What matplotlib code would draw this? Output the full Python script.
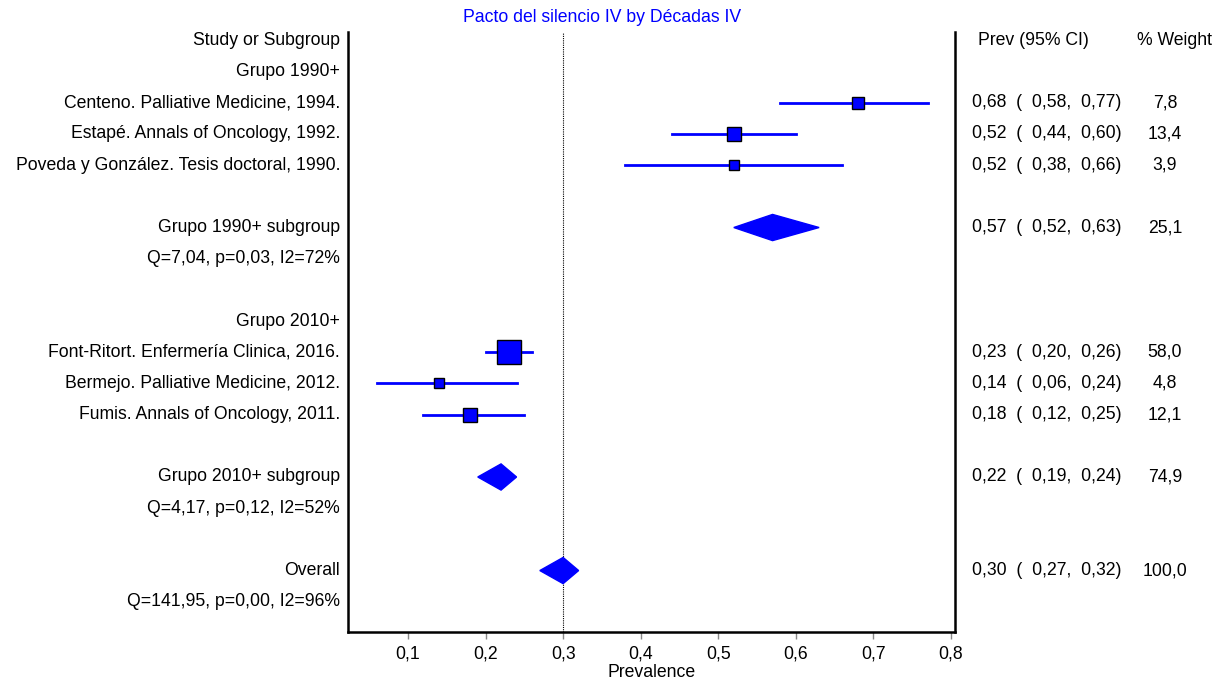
import numpy as np
import matplotlib
matplotlib.use('Agg')
import matplotlib.pyplot as plt

plt.rcParams['font.family'] = ['Liberation Sans', 'DejaVu Sans']

# Estudos individuais
estudos = [
    'Centeno. Palliative Medicine, 1994.',
    'Estapé. Annals of Oncology, 1992.',
    'Poveda y González. Tesis doctoral, 1990.',
    'Font-Ritort. Enfermería Clinica, 2016.',
    'Bermejo. Palliative Medicine, 2012.',
    'Fumis. Annals of Oncology, 2011.',
]
prev = [0.68, 0.52, 0.52, 0.23, 0.14, 0.18]
ci_low = [0.58, 0.44, 0.38, 0.20, 0.06, 0.12]
ci_high = [0.77, 0.60, 0.66, 0.26, 0.24, 0.25]
peso = [7.8, 13.4, 3.9, 58.0, 4.8, 12.1]
linha_estudo = [2, 3, 4, 10, 11, 12]

# Subgrupos e total
resumos = ['Grupo 1990+ subgroup', 'Grupo 2010+ subgroup', 'Overall']
prev_res = [0.57, 0.22, 0.30]
low_res = [0.52, 0.19, 0.27]
high_res = [0.63, 0.24, 0.32]
peso_res = [25.1, 74.9, 100.0]
linha_res = [6, 14, 17]
het = ['Q=7,04, p=0,03, I2=72%', 'Q=4,17, p=0,12, I2=52%', 'Q=141,95, p=0,00, I2=96%']

grupos = ['Grupo 1990+', 'Grupo 2010+']
linha_grupo = [1, 9]

ticks = [0.1, 0.2, 0.3, 0.4, 0.5, 0.6, 0.7, 0.8]


def fmt(v):
    return ('%.2f' % v).replace('.', ',')


def fmt1(v):
    return ('%.1f' % v).replace('.', ',')


fig = plt.figure(figsize=(12.25, 6.83), dpi=100)
ax = fig.add_axes([0.284, 0.0747, 0.4955, 0.878])
ax.set_xlim(0.0226, 0.805)
ax.set_ylim(18.97, -0.26)

azul = '#0000ff'
fs = 12.7

# Linha de referência (overall)
ax.axvline(prev_res[2], color='black', linestyle=(0, (1, 1)), linewidth=0.8, zorder=1)

# Estudos
for i in range(len(estudos)):
    y = linha_estudo[i]
    ax.plot([ci_low[i], ci_high[i]], [y, y], color=azul, linewidth=2, zorder=2)
    tam = (4 + 2.6 * np.sqrt(peso[i])) * 0.72
    ax.plot(prev[i], y, marker='s', markersize=tam, markerfacecolor=azul,
            markeredgecolor='black', markeredgewidth=1, zorder=3)

# Diamantes
for i in range(len(resumos)):
    y = linha_res[i]
    xs = [low_res[i], prev_res[i], high_res[i], prev_res[i]]
    ys = [y, y - 0.42, y, y + 0.42]
    ax.fill(xs, ys, color=azul, zorder=3)

# Eixos
ax.spines['top'].set_visible(False)
for lado in ['left', 'right', 'bottom']:
    ax.spines[lado].set_linewidth(1.8)
ax.set_yticks([])
ax.set_xticks(ticks)
ax.set_xticklabels([('%.1f' % t).replace('.', ',') for t in ticks], fontsize=fs)
ax.tick_params(axis='x', direction='out', length=5, color='#888888', width=1, pad=5)
ax.set_xlabel('Prevalence', fontsize=fs, labelpad=1)

tr = ax.get_yaxis_transform()

# Textos à esquerda
xl = -0.013
ax.text(xl, 0, 'Study or Subgroup', ha='right', va='center', fontsize=fs, transform=tr)
for g, y in zip(grupos, linha_grupo):
    ax.text(xl, y, g, ha='right', va='center', fontsize=fs, transform=tr)
for e, y in zip(estudos, linha_estudo):
    ax.text(xl, y, e, ha='right', va='center', fontsize=fs, transform=tr)
for i in range(len(resumos)):
    ax.text(xl, linha_res[i], resumos[i], ha='right', va='center', fontsize=fs, transform=tr)
    ax.text(xl, linha_res[i] + 1, het[i], ha='right', va='center', fontsize=fs, transform=tr)

# Textos à direita
xr1 = 1.028
xr2 = 1.346
ax.text(1.038, 0, 'Prev (95% CI)', ha='left', va='center', fontsize=fs, transform=tr)
ax.text(1.362, 0, '% Weight', ha='center', va='center', fontsize=fs, transform=tr)
for i in range(len(estudos)):
    txt = '%s  (  %s,  %s)' % (fmt(prev[i]), fmt(ci_low[i]), fmt(ci_high[i]))
    ax.text(xr1, linha_estudo[i], txt, ha='left', va='center', fontsize=fs, transform=tr)
    ax.text(xr2, linha_estudo[i], fmt1(peso[i]), ha='center', va='center', fontsize=fs, transform=tr)
for i in range(len(resumos)):
    txt = '%s  (  %s,  %s)' % (fmt(prev_res[i]), fmt(low_res[i]), fmt(high_res[i]))
    ax.text(xr1, linha_res[i], txt, ha='left', va='center', fontsize=fs, transform=tr)
    ax.text(xr2, linha_res[i], fmt1(peso_res[i]), ha='center', va='center', fontsize=fs, transform=tr)

fig.text(0.4915, 0.975, 'Pacto del silencio IV by Décadas IV', ha='center', va='center',
         fontsize=fs, color=azul)

fig.savefig('out.png', dpi=100)
